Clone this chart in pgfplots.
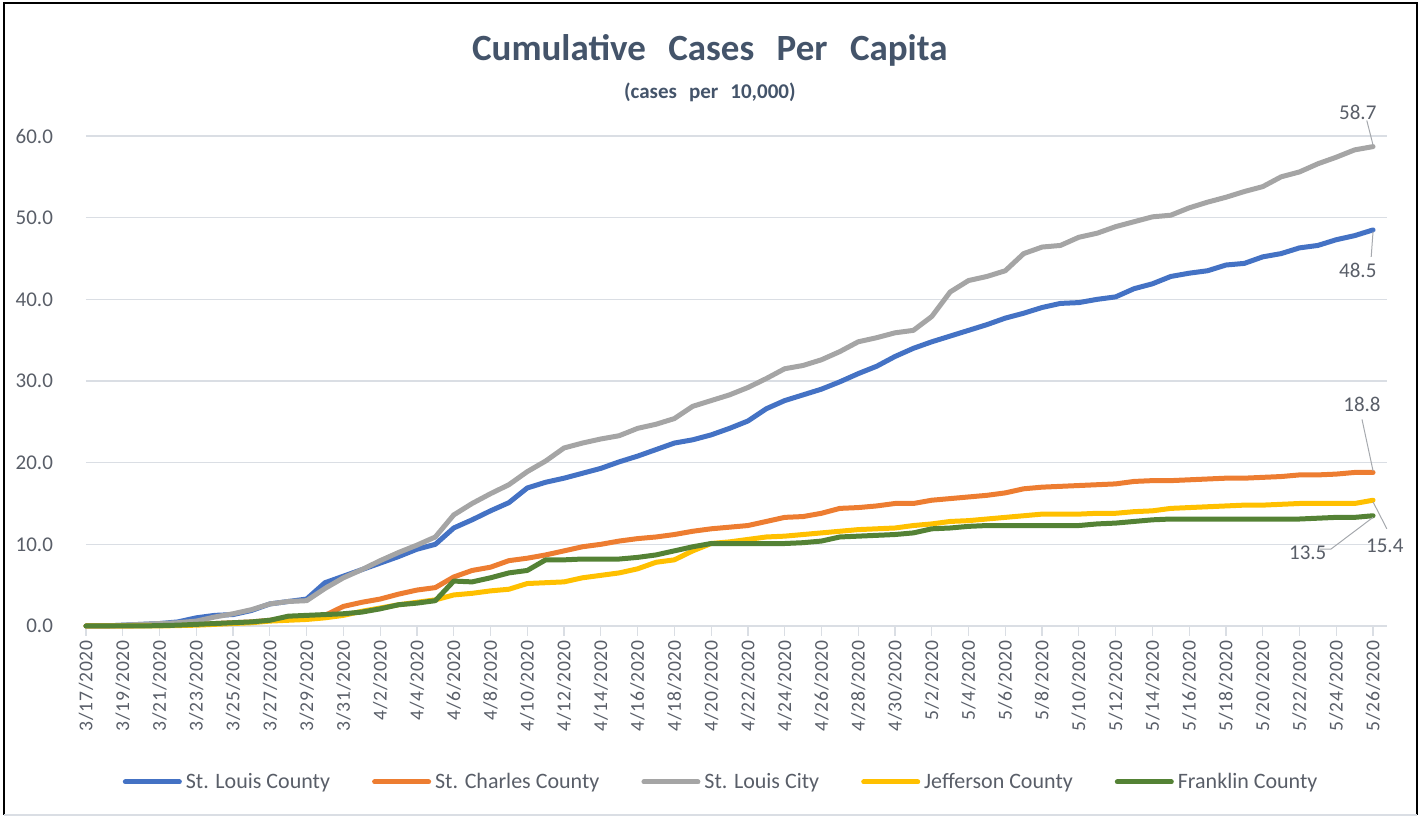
\documentclass[border=0pt]{standalone}
\usepackage{pgfplots}
\pgfplotsset{compat=1.18}
\usepackage{pgfplotstable}
\usepackage{fontspec}
\setmainfont{Carlito}
\newfontfamily\xlabfont[LetterSpace=4]{Carlito}
\definecolor{cBlue}{HTML}{4472C4}
\definecolor{cOrange}{HTML}{ED7D31}
\definecolor{cGray}{HTML}{A5A5A5}
\definecolor{cYellow}{HTML}{FFC000}
\definecolor{cGreen}{HTML}{548235}
\definecolor{gridc}{HTML}{DADEE4}
\definecolor{labc}{HTML}{595E68}
\definecolor{titlec}{HTML}{44546A}
\definecolor{leadc}{HTML}{A6A9AE}

\pgfplotstableread{
d  cnty  charles city  jeff  frank
0  0.0   0.0   0.0   0.0   0.0
1  0.0   0.0   0.0   0.0   0.0
2  0.1   0.0   0.1   0.0   0.0
3  0.2   0.05  0.2   0.0   0.0
4  0.3   0.1   0.3   0.0   0.05
5  0.5   0.1   0.4   0.05  0.1
6  1.0   0.2   0.6   0.1   0.2
7  1.3   0.3   1.1   0.2   0.3
8  1.4   0.4   1.5   0.3   0.4
9  1.9   0.5   2.0   0.4   0.5
10 2.7   0.7   2.7   0.6   0.7
11 3.0   0.9   3.0   0.7   1.2
12 3.3   1.1   3.1   0.8   1.3
13 5.3   1.3   4.6   1.0   1.4
14 6.1   2.4   5.9   1.3   1.5
15 6.9   2.9   6.9   1.8   1.7
16 7.7   3.3   8.0   2.2   2.1
17 8.5   3.9   9.0   2.6   2.6
18 9.4   4.4   9.9   2.9   2.8
19 10.0  4.7   10.9  3.2   3.1
20 12.0  6.0   13.6  3.8   5.5
21 13.0  6.8   15.0  4.0   5.4
22 14.1  7.2   16.2  4.3   5.9
23 15.1  8.0   17.3  4.5   6.5
24 16.9  8.3   18.9  5.2   6.8
25 17.6  8.7   20.2  5.3   8.1
26 18.1  9.2   21.8  5.4   8.1
27 18.7  9.7   22.4  5.9   8.2
28 19.3  10.0  22.9  6.2   8.2
29 20.1  10.4  23.3  6.5   8.2
30 20.8  10.7  24.2  7.0   8.4
31 21.6  10.9  24.7  7.8   8.7
32 22.4  11.2  25.4  8.1   9.2
33 22.8  11.6  26.9  9.2   9.7
34 23.4  11.9  27.6  10.1  10.1
35 24.2  12.1  28.3  10.3  10.1
36 25.1  12.3  29.2  10.6  10.1
37 26.6  12.8  30.3  10.9  10.1
38 27.6  13.3  31.5  11.0  10.1
39 28.3  13.4  31.9  11.2  10.2
40 29.0  13.8  32.6  11.4  10.4
41 29.9  14.4  33.6  11.6  10.9
42 30.9  14.5  34.8  11.8  11.0
43 31.8  14.7  35.3  11.9  11.1
44 33.0  15.0  35.9  12.0  11.2
45 34.0  15.0  36.2  12.3  11.4
46 34.8  15.4  37.9  12.5  11.9
47 35.5  15.6  40.9  12.8  12.0
48 36.2  15.8  42.3  12.9  12.2
49 36.9  16.0  42.8  13.1  12.3
50 37.7  16.3  43.5  13.3  12.3
51 38.3  16.8  45.6  13.5  12.3
52 39.0  17.0  46.4  13.7  12.3
53 39.5  17.1  46.6  13.7  12.3
54 39.6  17.2  47.6  13.7  12.3
55 40.0  17.3  48.1  13.8  12.5
56 40.3  17.4  48.9  13.8  12.6
57 41.3  17.7  49.5  14.0  12.8
58 41.9  17.8  50.1  14.1  13.0
59 42.8  17.8  50.3  14.4  13.1
60 43.2  17.9  51.2  14.5  13.1
61 43.5  18.0  51.9  14.6  13.1
62 44.2  18.1  52.5  14.7  13.1
63 44.4  18.1  53.2  14.8  13.1
64 45.2  18.2  53.8  14.8  13.1
65 45.6  18.3  55.0  14.9  13.1
66 46.3  18.5  55.6  15.0  13.1
67 46.6  18.5  56.6  15.0  13.2
68 47.3  18.6  57.4  15.0  13.3
69 47.8  18.8  58.3  15.0  13.3
70 48.5  18.8  58.7  15.4  13.5
}\datatable

\begin{document}
\begin{tikzpicture}
\useasboundingbox (-43pt,-95.5pt) rectangle (667.5pt,313pt);
\begin{axis}[
  scale only axis, width=650.5pt, height=245pt,
  at={(0pt,0pt)}, anchor=south west,
  xmin=0, xmax=70.76, ymin=0, ymax=60,
  clip=false,
  axis line style={draw=none},
  ymajorgrids=true,
  grid style={draw=gridc, line width=0.6pt},
  ytick={0,10,...,60},
  ytick style={draw=none},
  xtick={0,2,...,70},
  xticklabels={3/17/2020,3/19/2020,3/21/2020,3/23/2020,3/25/2020,3/27/2020,3/29/2020,3/31/2020,4/2/2020,4/4/2020,4/6/2020,4/8/2020,4/10/2020,4/12/2020,4/14/2020,4/16/2020,4/18/2020,4/20/2020,4/22/2020,4/24/2020,4/26/2020,4/28/2020,4/30/2020,5/2/2020,5/4/2020,5/6/2020,5/8/2020,5/10/2020,5/12/2020,5/14/2020,5/16/2020,5/18/2020,5/20/2020,5/22/2020,5/24/2020,5/26/2020},
  xtick pos=lower,
  tick align=outside,
  major tick length=5pt,
  xtick style={draw=gridc, line width=0.6pt},
  xticklabel style={rotate=90, anchor=east, font=\xlabfont\fontsize{9.8}{11}\selectfont, text=labc, inner sep=2pt},
  yticklabel style={font=\fontsize{10.5}{12}\selectfont, text=labc, xshift=-8pt},
  /pgf/number format/.cd, fixed, fixed zerofill, precision=1, assume math mode=true,
  /pgfplots/.cd,
  every axis plot/.append style={line width=2.5pt, line cap=round, line join=round},
  legend image code/.code={\draw[#1] (0pt,0pt) -- (27pt,0pt);},
  legend style={at={(axis cs:34.6,-19.1)}, anchor=center, draw=none, fill=none,
    legend columns=5, font=\fontsize{11}{13}\selectfont, text=labc,
    /tikz/every odd column/.append style={column sep=0pt},
    /tikz/every even column/.append style={column sep=19pt}},
]
\addplot[cBlue] table[x=d, y=cnty] {\datatable};
\addlegendentry{St. Louis County}
\addplot[cOrange] table[x=d, y=charles] {\datatable};
\addlegendentry{St. Charles County}
\addplot[cGray] table[x=d, y=city] {\datatable};
\addlegendentry{St. Louis City}
\addplot[cYellow] table[x=d, y=jeff] {\datatable};
\addlegendentry{Jefferson County}
\addplot[cGreen] table[x=d, y=frank] {\datatable};
\addlegendentry{Franklin County}

\node[font=\bfseries\fontsize{18.5}{21}\selectfont, text=titlec] at (axis cs:33.93,70.5) {Cumulative\hspace{0.38em} Cases\hspace{0.38em} Per\hspace{0.38em} Capita};
\node[font=\bfseries\fontsize{10.5}{12}\selectfont, text=titlec] at (axis cs:33.93,65.4) {(cases\hspace{0.35em} per\hspace{0.35em} 10,000)};

\draw[leadc, line width=0.5pt] (axis cs:69.66,61.9) -- (axis cs:70,58.9);
\node[font=\fontsize{10.5}{12}\selectfont, text=labc] at (axis cs:69.17,62.9) {58.7};
\draw[leadc, line width=0.5pt] (axis cs:70,48.3) -- (axis cs:69.9,45.2);
\node[font=\fontsize{10.5}{12}\selectfont, text=labc] at (axis cs:69.17,43.6) {48.5};
\draw[leadc, line width=0.5pt] (axis cs:69.4,25.3) -- (axis cs:70,19.0);
\node[font=\fontsize{10.5}{12}\selectfont, text=labc] at (axis cs:69.4,27.1) {18.8};
\draw[leadc, line width=0.5pt] (axis cs:67.1,9.4) -- (axis cs:67.7,9.4) -- (axis cs:70,13.3);
\node[font=\fontsize{10.5}{12}\selectfont, text=labc] at (axis cs:66.45,9.0) {13.5};
\draw[leadc, line width=0.5pt] (axis cs:70,15.2) -- (axis cs:70.75,11.9);
\node[font=\fontsize{10.5}{12}\selectfont, text=labc] at (axis cs:70.64,9.8) {15.4};
\end{axis}
\draw[black, line width=1pt] (-41pt,-94.5pt) -- (-41pt,311.5pt) -- (665.5pt,311.5pt) -- (665.5pt,-94.5pt);
\draw[gridc, line width=0.6pt] (-41pt,-94.5pt) -- (665.5pt,-94.5pt);
\end{tikzpicture}
\end{document}
